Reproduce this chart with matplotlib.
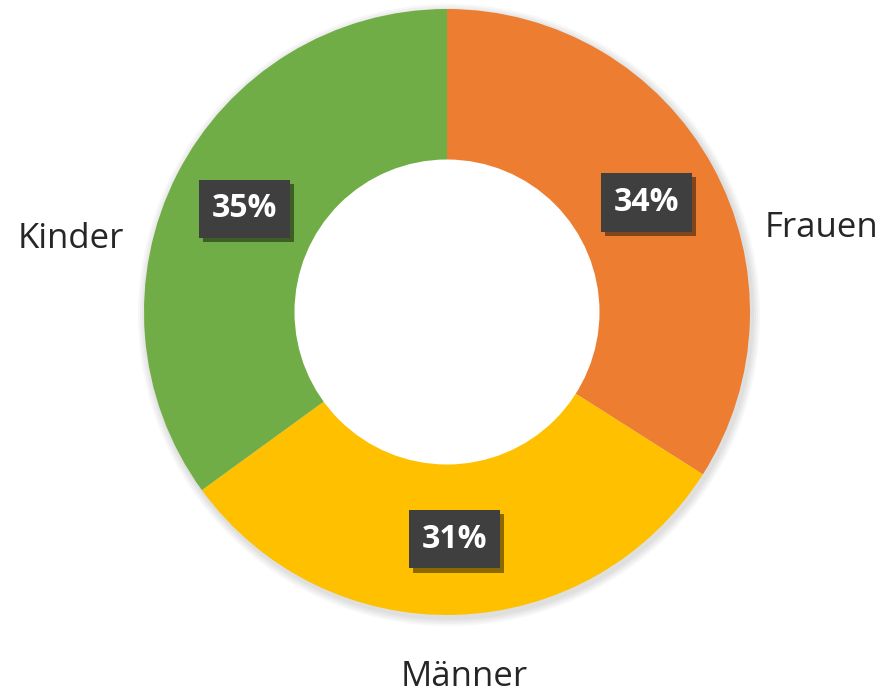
import matplotlib.pyplot as plt
import matplotlib.patheffects as pe
from matplotlib.patches import Circle

categories = ['Frauen', 'Männer', 'Kinder']
values = [34, 31, 35]
colors = ['#ED7D31', '#FFC000', '#70AD47']

plt.rcParams['font.family'] = ['Open Sans', 'DejaVu Sans']

fig = plt.figure(figsize=(8.87, 6.96), dpi=100)
ax = fig.add_axes([0, 0, 1, 1])

cx, cy, r = 447, 384, 303

# soft shadow behind the ring
for i in range(4):
    ax.add_patch(Circle((cx + 2, cy - 3), r + 2 + 2 * i, color='black', alpha=0.03, lw=0, zorder=0))
ax.add_patch(Circle((cx, cy), r * 0.5 + 1, color='white', lw=0, zorder=3))

wedges, texts, autotexts = ax.pie(
    values, colors=colors, startangle=90, counterclock=False,
    center=(cx, cy), radius=r, autopct='%d%%', pctdistance=0.75,
    wedgeprops=dict(width=r * 0.5, edgecolor='none'), frame=True)
for w in wedges:
    w.set_zorder(2)
ax.set_xlim(0, 887)
ax.set_ylim(0, 696)
ax.axis('off')

for t in autotexts:
    t.set_fontsize(23)
    t.set_fontweight('bold')
    t.set_color('white')
    t.set_zorder(6)
    t.set_bbox(dict(boxstyle='square,pad=0.4', fc='#3F3F3F', ec='none'))
    t.get_bbox_patch().set_path_effects(
        [pe.SimplePatchShadow(offset=(3, -3), shadow_rgbFace='black', alpha=0.45), pe.Normal()])

label_pos = {'Frauen': (822, 459), 'Kinder': (71, 448), 'Männer': (464, 10)}
for name in categories:
    x, y = label_pos[name]
    ax.text(x, y, name, fontsize=25, color='#262626', ha='center', va='baseline')

fig.savefig('out.png', dpi=100, facecolor='white')
